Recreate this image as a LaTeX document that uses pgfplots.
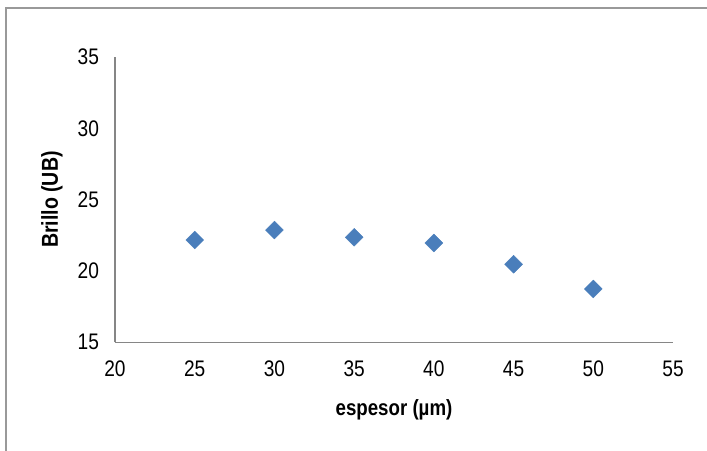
\documentclass[border=0pt]{standalone}
\usepackage{fontspec}
\setmainfont{Liberation Sans}[FakeStretch=0.85]
\usepackage{pgfplots}
\pgfplotsset{compat=1.18}
\definecolor{mblue}{HTML}{4A7EBB}
\definecolor{axgray}{HTML}{868686}
\begin{document}
\begin{tikzpicture}[x=1bp,y=1bp]
\useasboundingbox (0,0) rectangle (707,451);
\draw[line width=2bp, color=gray!80] (5.5,0) -- (5.5,443) -- (707,443);
\begin{axis}[
  at={(115bp,108.7bp)}, anchor=south west,
  scale only axis, width=558bp, height=285.3bp,
  xmin=20, xmax=55, ymin=15, ymax=35,
  xtick={20,25,...,55}, ytick={15,20,...,35},
  axis x line=bottom, axis y line=left,
  axis line style={-, draw=axgray, line width=1.3bp},
  major tick length=0pt,
  /pgf/number format/assume math mode=true,
  tick label style={font=\fontsize{22.5bp}{27bp}\selectfont, text=black},
  xticklabel shift=15bp, yticklabel shift=12.5bp,
  xlabel={espesor (µm)},
  ylabel={Brillo (UB)},
  xlabel style={font=\fontsize{22bp}{26bp}\selectfont\bfseries, at={(axis description cs:0.5,-0.255)}, anchor=base},
  ylabel style={font=\fontsize{23bp}{27bp}\selectfont\bfseries, at={(axis description cs:-0.113,0.5)}, anchor=center, rotate=0},
  clip=false,
]
\addplot[only marks, mark=square*, mark size=6.3bp, mark options={rotate=45, fill=mblue, draw=mblue}]
coordinates {(25,22.17) (30,22.87) (35,22.36) (40,21.96) (45,20.47) (50,18.74)};
\end{axis}
\end{tikzpicture}
\end{document}
